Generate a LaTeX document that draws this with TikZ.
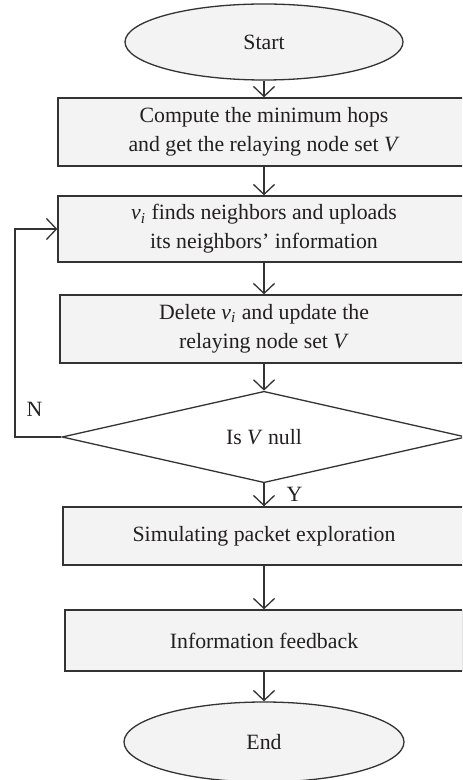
\documentclass[tikz,border=0pt]{standalone}
\usepackage{fontspec}
\setmainfont{Liberation Serif}
\usepackage{tikz}
\usetikzlibrary{shapes.geometric}
\usetikzlibrary{arrows.meta}
\usetikzlibrary{positioning}
\definecolor{boxfill}{HTML}{F2F3F2}
\definecolor{linegray}{HTML}{333333}
\definecolor{textgray}{HTML}{231F20}
\tikzset{every picture/.style={line width=0.65pt},
stepbox/.style={draw=linegray,fill=boxfill,rectangle,align=center,inner sep=0pt,text=textgray},
term/.style={draw=linegray,fill=boxfill,ellipse,inner sep=0pt,text=textgray},
test/.style={draw=linegray,fill=white,diamond,inner sep=0pt,text=textgray},
flow/.style={draw=linegray,-{Straight Barb[length=5pt,width=10.5pt]}},
lab/.style={text=textgray,inner sep=0pt}}

\begin{document}
\begin{tikzpicture}[x=0.5pt,y=-0.5pt,font=\fontsize{10.9}{14.5}\selectfont]
\clip (0,0) rectangle (462,780);
\node[term,minimum width=139pt,minimum height=38pt] (start) at (264,42) {Start};
\node[stepbox,minimum width=206pt,minimum height=34pt] (hops) at (264,132) {Compute the minimum hops\\and get the relaying node set \textit{V}};
\node[stepbox,minimum width=206pt,minimum height=33pt] (findnb) at (264,229) {\textit{v\textsubscript{i}} finds neighbors and uploads\\its neighbors' information};
\node[stepbox,minimum width=204pt,minimum height=34pt] (update) at (264,329) {Delete \textit{v\textsubscript{i}} and update the\\relaying node set \textit{V}};
\node[test,minimum width=202pt,minimum height=41pt] (isnull) at (264,437) {Is \textit{V} null};
\node[stepbox,minimum width=201pt,minimum height=29pt] (simulate) at (264,536) {Simulating packet exploration};
\node[stepbox,minimum width=199pt,minimum height=30.5pt] (feedback) at (264,640.5) {Information feedback};
\node[term,minimum width=140pt,minimum height=40pt] (end) at (264,742) {End};
\coordinate (nturn) at (15,437);
\draw[flow] (start) -- (hops);
\draw[flow] (hops) -- (findnb);
\draw[flow] (findnb) -- (update);
\draw[flow] (update) -- (isnull);
\draw[flow] (isnull) -- (simulate) node[lab,midway,right=11pt] (ylab) {Y};
\draw[flow] (simulate) -- (feedback);
\draw[flow] (feedback) -- (end);
\draw[flow] (isnull.west) -- (nturn) node[lab,pos=0.58,above=10pt] (nlab) {N} |- (findnb.west);
\end{tikzpicture}
\end{document}
